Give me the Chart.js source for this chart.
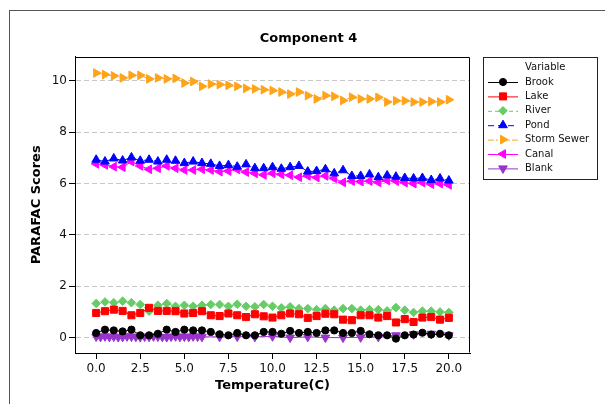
<!DOCTYPE html>
<html><head><meta charset="utf-8">
<script src="https://cdn.jsdelivr.net/npm/chart.js@4.4.1/dist/chart.umd.min.js"></script>
<style>
html,body{margin:0;padding:0;background:#fff;}
#wrap{position:relative;width:605px;height:404px;overflow:hidden;}
#frame{position:absolute;left:9px;top:10px;width:700px;height:500px;border-top:1px solid #555;border-left:1px solid #555;}
canvas{position:absolute;left:0;top:0;}
</style></head><body>
<div id="wrap"><div id="frame"></div><canvas id="c" width="605" height="404"></canvas></div>
<script>
// ---- data ----
const temps = [0,0.5,1,1.5,2,2.5,3,3.5,4,4.5,5,5.5,6,6.5,7,7.5,8,8.5,9,9.5,10,10.5,11,11.5,12,12.5,13,13.5,14,14.5,15,15.5,16,16.5,17,17.5,18,18.5,19,19.5,20];
const blankTemps = [0,0.25,0.5,0.75,1,1.25,1.5,1.75,2,2.25,2.5,2.75,3,3.25,3.5,3.75,4,4.25,4.5,4.75,5,5.25,5.5,5.75,6,7,8,9,10,11,12,13,14,15,16,17,18,19,20];
const brook = [0.18,0.31,0.28,0.24,0.31,0.09,0.09,0.15,0.31,0.22,0.31,0.28,0.28,0.22,0.13,0.09,0.18,0.09,0.09,0.22,0.22,0.15,0.26,0.18,0.22,0.18,0.28,0.28,0.18,0.18,0.26,0.13,0.09,0.09,-0.04,0.09,0.12,0.19,0.12,0.15,0.09];
const lake = [0.96,1.03,1.09,1.04,0.87,0.96,1.16,1.04,1.04,1.03,0.94,0.96,1.03,0.87,0.84,0.94,0.87,0.80,0.91,0.83,0.78,0.87,0.94,0.91,0.77,0.84,0.93,0.91,0.70,0.68,0.87,0.87,0.78,0.84,0.59,0.72,0.61,0.78,0.80,0.70,0.77];
const river = [1.33,1.39,1.36,1.42,1.36,1.29,1.03,1.26,1.33,1.22,1.26,1.22,1.26,1.29,1.29,1.22,1.30,1.22,1.20,1.29,1.22,1.16,1.20,1.13,1.13,1.09,1.13,1.07,1.13,1.13,1.07,1.09,1.09,1.04,1.17,1.07,0.98,1.03,1.03,1.00,0.98];
const pond = [6.93,6.86,6.98,6.90,7.02,6.89,6.93,6.86,6.93,6.89,6.80,6.86,6.80,6.77,6.69,6.72,6.66,6.75,6.60,6.60,6.64,6.58,6.64,6.69,6.47,6.49,6.56,6.40,6.52,6.30,6.30,6.36,6.25,6.32,6.27,6.22,6.20,6.22,6.14,6.20,6.12];
const stormSewer = [10.31,10.25,10.20,10.12,10.22,10.22,10.08,10.12,10.08,10.10,9.92,9.98,9.79,9.88,9.86,9.83,9.79,9.71,9.69,9.66,9.63,9.57,9.49,9.57,9.43,9.30,9.43,9.40,9.24,9.37,9.30,9.30,9.36,9.18,9.23,9.23,9.18,9.18,9.20,9.18,9.27];
const canal = [6.77,6.73,6.66,6.64,6.86,6.69,6.56,6.60,6.69,6.60,6.53,6.53,6.56,6.53,6.47,6.49,6.55,6.45,6.40,6.34,6.40,6.36,6.33,6.25,6.30,6.24,6.30,6.20,6.05,6.10,6.08,6.10,6.05,6.12,6.10,6.04,6.00,6.04,5.98,6.00,5.95];
const blank = [0.04,0.03,0.05,0.03,0.04,0.02,0.03,0.05,0.04,0.03,0.02,0.04,0.03,0.05,0.04,0.03,0.02,0.04,0.05,0.03,0.04,0.03,0.05,0.04,0.03,0.03,0.04,0.03,0.05,0.00,0.03,0.00,0.00,0.01,0.03,0.09,0.13,0.15,0.09];
const xTicks = [0,2.5,5,7.5,10,12.5,15,17.5,20];
const yTicks = [0,2,4,6,8,10];

// ---- styles ----
const seriesDefs = [
  {label:'Brook', xs:temps, ys:brook, color:'#000000', style:'circle', rot:0, r:3.6, dash:[]},
  {label:'Lake', xs:temps, ys:lake, color:'#ff0000', style:'rect', rot:0, r:5, dash:[]},
  {label:'River', xs:temps, ys:river, color:'#66cc66', style:'rectRot', rot:0, r:4.3, dash:[4,3]},
  {label:'Pond', xs:temps, ys:pond, color:'#0000ff', style:'triangle', rot:0, r:5, dash:[6,4]},
  {label:'Storm Sewer', xs:temps, ys:stormSewer, color:'#ffa31a', style:'triangle', rot:90, r:5, dash:[6,2,2,2]},
  {label:'Canal', xs:temps, ys:canal, color:'#ff00ff', style:'triangle', rot:270, r:5, dash:[]},
  {label:'Blank', xs:blankTemps, ys:blank, color:'#9933cc', style:'triangle', rot:180, r:5, dash:[]}
];

const datasets = seriesDefs.map(d => ({
  label: d.label,
  data: d.xs.map((x, i) => ({x: x, y: d.ys[i]})),
  xAxisID: 'x', yAxisID: 'y',
  borderColor: d.color, backgroundColor: d.color,
  borderWidth: 1, borderDash: d.dash,
  pointStyle: d.style, pointRotation: d.rot, pointRadius: d.r,
  pointBackgroundColor: d.color, pointBorderColor: d.color, pointBorderWidth: 1,
  tension: 0, fill: false
}));

const FONT = "'DejaVu Sans', Verdana, sans-serif";
Chart.defaults.font.family = FONT;
Chart.defaults.color = '#111';

const areaBox = {
  id: 'areaBox',
  afterDraw(chart) {
    const {ctx, chartArea: a} = chart;
    const l = Math.round(a.left) + 0.5, t = Math.round(a.top) + 0.5;
    const r = Math.round(a.right) - 0.5, b = Math.round(a.bottom) - 0.5;
    ctx.save();
    ctx.strokeStyle = '#000'; ctx.lineWidth = 1;
    ctx.beginPath();
    ctx.moveTo(l, t); ctx.lineTo(r, t); ctx.lineTo(r, b);
    ctx.stroke();
    ctx.restore();
  }
};

const boxLegend = {
  id: 'boxLegend',
  afterDraw(chart, args, o) {
    const ctx = chart.ctx;
    ctx.save();
    ctx.strokeStyle = '#222'; ctx.lineWidth = 1;
    ctx.strokeRect(o.x, o.y, o.w, o.h);
    ctx.font = o.fontSize + 'px ' + FONT;
    ctx.textBaseline = 'middle'; ctx.textAlign = 'left';
    ctx.fillStyle = '#111';
    ctx.fillText(o.title, o.textX, o.titleY);
    chart.data.datasets.forEach((ds, i) => {
      const y = o.rowY0 + i * o.rowH;
      ctx.save();
      ctx.strokeStyle = ds.borderColor; ctx.lineWidth = 1;
      ctx.setLineDash(ds.borderDash || []);
      ctx.beginPath(); ctx.moveTo(o.lineX0, y + 0.5); ctx.lineTo(o.lineX1, y + 0.5); ctx.stroke();
      ctx.setLineDash([]);
      ctx.fillStyle = ds.pointBackgroundColor; ctx.strokeStyle = ds.pointBorderColor;
      Chart.helpers.drawPoint(ctx, {pointStyle: ds.pointStyle, rotation: ds.pointRotation, radius: ds.pointRadius, borderWidth: 1}, o.markX, y);
      ctx.restore();
      ctx.fillStyle = '#111';
      ctx.fillText(ds.label, o.textX, y);
    });
    ctx.restore();
  }
};

new Chart(document.getElementById('c'), {
  type: 'line',
  data: {datasets: datasets},
  plugins: [areaBox, boxLegend],
  options: {
    responsive: false, animation: false, devicePixelRatio: 1,
    layout: {padding: {left: 12, right: 0, top: 0, bottom: 0}},
    plugins: {
      legend: {display: false},
      tooltip: {enabled: false},
      title: {display: true, text: 'Component 4', color: '#000', font: {size: 13, weight: 'bold'}, padding: {top: 31, bottom: 10}},
      boxLegend: {x: 483.5, y: 57.5, w: 114, h: 122, lineX0: 488, lineX1: 518, markX: 503, textX: 525, titleY: 67.5, rowY0: 82, rowH: 14.4, fontSize: 10, title: 'Variable'}
    },
    scales: {
      x: {
        type: 'linear', position: 'bottom', min: -1.2, max: 21.2,
        afterBuildTicks: s => { s.ticks = xTicks.map(v => ({value: v})); },
        afterFit: s => { s.height = 51; },
        ticks: {callback: v => Number(v).toFixed(1), color: '#111', font: {size: 12}, padding: 3, maxRotation: 0, autoSkip: false},
        grid: {drawOnChartArea: false, drawTicks: true, tickLength: 6, tickColor: '#000'},
        border: {display: true, color: '#000', width: 1},
        title: {display: true, text: 'Temperature(C)', color: '#000', font: {size: 13, weight: 'bold'}, padding: {top: 0, bottom: 11}}
      },
      y: {
        type: 'linear', position: 'left', min: -0.6, max: 10.95,
        afterBuildTicks: s => { s.ticks = yTicks.map(v => ({value: v})); },
        afterFit: s => { s.width = 63; },
        ticks: {callback: v => String(v), color: '#111', font: {size: 12}, padding: 2, autoSkip: false},
        grid: {color: '#c8c8c8', lineWidth: 1, drawTicks: true, tickLength: 6, tickColor: '#000', borderDash: [5, 3]},
        border: {display: true, color: '#000', width: 1, dash: [5, 3]},
        title: {display: true, text: 'PARAFAC Scores', color: '#000', font: {size: 13, weight: 'bold'}, padding: {top: 17, bottom: 0}}
      },
      yR: {
        type: 'linear', position: 'right', display: true,
        grid: {display: false, drawTicks: false}, ticks: {display: false}, border: {display: false},
        afterFit: s => { s.width = 135; }
      }
    }
  }
});
</script>
</body></html>
